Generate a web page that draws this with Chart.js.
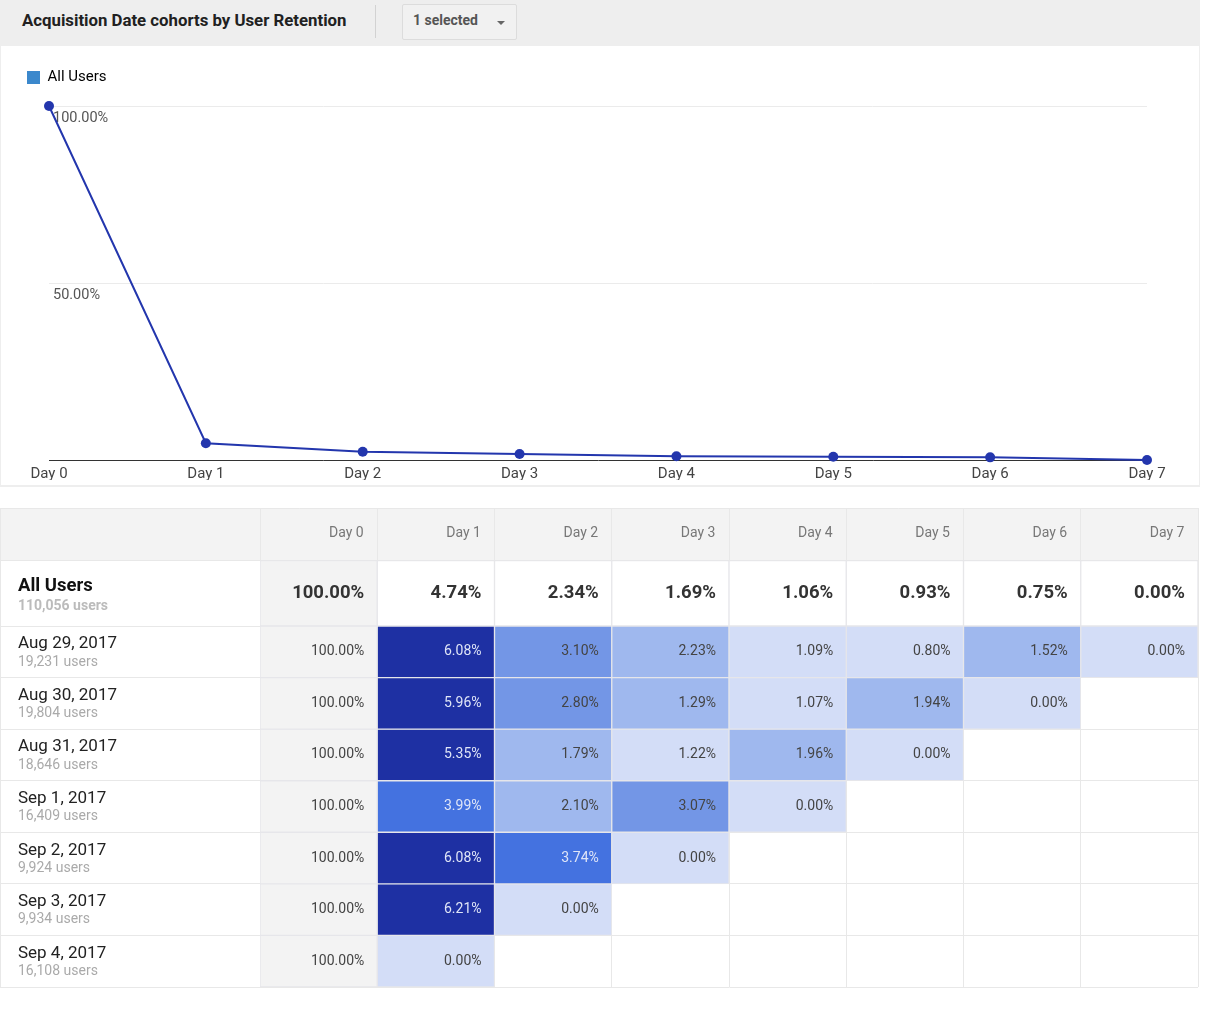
<!DOCTYPE html>
<html>
<head>
<meta charset="utf-8">
<script src="https://cdn.jsdelivr.net/npm/chart.js@4.4.1/dist/chart.umd.min.js"></script>
<style>
  body { margin: 0; background: #fff; font-family: Roboto, sans-serif; width: 1206px; height: 1010px; position: relative; overflow: hidden; }
  #header { position: absolute; left: 0; top: 0; width: 1200px; height: 46px; background: #eeeeee; }
  #title { position: absolute; left: 22px; top: 10px; font-size: 16.8px; font-weight: bold; color: #212121; }
  #sep { position: absolute; left: 375px; top: 5px; width: 1px; height: 33px; background: #d2d2d2; }
  #dropdown { position: absolute; left: 402px; top: 4px; width: 113px; height: 34px; border: 1px solid #dcdcdc; background: #f1f1f1; border-radius: 2px; }
  #dropdown span { position: absolute; left: 10px; top: 7px; font-size: 14px; font-weight: bold; color: #555; }
  #arrow { position: absolute; left: 94px; top: 16px; width: 0; height: 0; border-left: 4px solid transparent; border-right: 4px solid transparent; border-top: 4px solid #666; }
  #lineBox { position: absolute; left: 0; top: 46px; width: 1198px; height: 439px; border-left: 1px solid #eeeeee; border-right: 1px solid #eeeeee; border-bottom: 2px solid #eeeeee; }
  #lineCanvas { position: absolute; left: 0; top: 49px; }
  #tableCanvas { position: absolute; left: 0; top: 508px; }
</style>
</head>
<body>
<div id="header">
  <div id="title">Acquisition Date cohorts by User Retention</div>
  <div id="sep"></div>
  <div id="dropdown"><span>1 selected</span><div id="arrow"></div></div>
</div>
<div id="lineBox"></div>
<canvas id="lineCanvas" width="1200" height="442"></canvas>
<canvas id="tableCanvas" width="1199" height="480"></canvas>
<script>
// columns / days
const dayLabels = ['Day 0', 'Day 1', 'Day 2', 'Day 3', 'Day 4', 'Day 5', 'Day 6', 'Day 7'];

// all users retention (%)
const allUsersRetention = [100, 4.74, 2.34, 1.69, 1.06, 0.93, 0.75, 0.00];
const allUsersCount = 110056;

// cohorts
const cohortLabels = ['Aug 29, 2017', 'Aug 30, 2017', 'Aug 31, 2017', 'Sep 1, 2017', 'Sep 2, 2017', 'Sep 3, 2017', 'Sep 4, 2017'];
const cohortUsers = [19231, 19804, 18646, 16409, 9924, 9934, 16108];
const cohortRetention = [
  [100, 6.08, 3.10, 2.23, 1.09, 0.80, 1.52, 0.00],
  [100, 5.96, 2.80, 1.29, 1.07, 1.94, 0.00],
  [100, 5.35, 1.79, 1.22, 1.96, 0.00],
  [100, 3.99, 2.10, 3.07, 0.00],
  [100, 6.08, 3.74, 0.00],
  [100, 6.21, 0.00],
  [100, 0.00]
];

const FONT = 'Roboto';
Chart.defaults.font.family = FONT;

// ---------- line chart ----------
new Chart(document.getElementById('lineCanvas'), {
  type: 'line',
  data: {
    labels: dayLabels,
    datasets: [{
      label: 'All Users',
      data: allUsersRetention,
      borderColor: '#2336ad',
      backgroundColor: '#2336ad',
      borderWidth: 2,
      pointRadius: 5,
      pointHoverRadius: 5,
      pointBorderWidth: 0,
      tension: 0,
      clip: false
    }]
  },
  options: {
    responsive: false,
    animation: false,
    layout: { padding: { left: 6, right: 53, top: 0, bottom: 11 } },
    plugins: {
      tooltip: { enabled: false },
      // empty title used as a spacer between legend and plot
      title: { display: true, text: '', padding: 0, weight: 500, font: { size: 9.17 } },
      legend: {
        align: 'start',
        labels: {
          boxWidth: 13,
          boxHeight: 13,
          padding: 21,
          color: '#222',
          font: { size: 15 },
          generateLabels: () => [{ text: 'All Users', fillStyle: '#3b88cc', strokeStyle: '#3b88cc', lineWidth: 0, hidden: false, datasetIndex: 0 }]
        }
      }
    },
    scales: {
      x: {
        offset: false,
        grid: { display: false },
        border: { color: '#333', width: 1 },
        ticks: { color: '#444', font: { size: 15 }, padding: -3, maxRotation: 0, autoSkip: false }
      },
      y: {
        min: 0,
        max: 100,
        afterFit: s => { s.width = 43; },
        border: { display: false },
        grid: {
          drawTicks: false,
          color: c => (c.tick && c.tick.value === 0) ? 'rgba(0,0,0,0)' : '#ebebeb'
        },
        ticks: {
          stepSize: 50,
          mirror: true,
          padding: 4,
          labelOffset: 12.5,
          color: '#555',
          font: { size: 14.5 },
          callback: v => v === 0 ? '' : v.toFixed(2) + '%'
        }
      }
    }
  }
});

// ---------- cohort table ----------
const ALL_ROW_UNITS = 1.28; // All Users row is taller
function rowRange(r) {
  return r === 0 ? [0, ALL_ROW_UNITS] : [ALL_ROW_UNITS + r - 1, ALL_ROW_UNITS + r];
}
const tableRows = [allUsersRetention].concat(cohortRetention);
const rowBounds = [0];
tableRows.forEach((v, r) => rowBounds.push(rowRange(r)[1]));

function cellColor(r, c, v) {
  if (c === 0) return '#f3f3f3';
  if (r === 0) return '#ffffff';
  if (v < 1.25) return '#d3ddf7';
  if (v < 2.5) return '#9fb8ee';
  if (v < 3.5) return '#7396e6';
  if (v < 5) return '#4472e0';
  return '#1e30a3';
}
function cellTextColor(r, c, v) {
  if (r === 0) return '#333';
  if (c > 0 && v >= 3.5) return '#dfe5f7';
  return '#444';
}

const tableData = {
  labels: dayLabels,
  datasets: tableRows.map((vals, r) => ({
    label: r === 0 ? 'All Users' : cohortLabels[r - 1],
    data: dayLabels.map((d, c) => c < vals.length ? rowRange(r) : null),
    backgroundColor: dayLabels.map((d, c) => cellColor(r, c, vals[c])),
    borderColor: '#e6e6ea',
    borderWidth: 1,
    borderSkipped: false,
    grouped: false,
    barPercentage: 1,
    categoryPercentage: 1
  }))
};

const tablePlugin = {
  id: 'tableText',
  beforeDraw(chart) {
    const ctx = chart.ctx, a = chart.chartArea;
    ctx.save();
    ctx.fillStyle = '#f3f3f3';
    ctx.fillRect(0, 0, a.right, a.top);
    ctx.strokeStyle = '#e8e8e8';
    ctx.lineWidth = 1;
    ctx.beginPath();
    ctx.moveTo(0, 0.5); ctx.lineTo(a.right, 0.5);
    ctx.moveTo(0.5, 0); ctx.lineTo(0.5, a.bottom);
    ctx.stroke();
    ctx.restore();
  },
  afterDatasetsDraw(chart) {
    const ctx = chart.ctx;
    const ys = chart.scales.y;
    ctx.save();
    ctx.textBaseline = 'middle';
    // cell values
    chart.data.datasets.forEach((ds, r) => {
      const vals = tableRows[r];
      chart.getDatasetMeta(r).data.forEach((bar, c) => {
        if (ds.data[c] == null) return;
        const v = vals[c];
        ctx.textAlign = 'right';
        ctx.font = r === 0 ? 'bold 18.5px ' + FONT : '14px ' + FONT;
        ctx.fillStyle = cellTextColor(r, c, v);
        ctx.fillText(v.toFixed(2) + '%', bar.x + bar.width / 2 - 13, (bar.y + bar.base) / 2);
      });
    });
    // row labels
    ctx.textAlign = 'left';
    tableRows.forEach((vals, r) => {
      const top = ys.getPixelForValue(rowRange(r)[0]);
      if (r === 0) {
        ctx.font = 'bold 18.5px ' + FONT;
        ctx.fillStyle = '#111';
        ctx.fillText('All Users', 18, top + 26);
        ctx.font = 'bold 14px ' + FONT;
        ctx.fillStyle = '#bbb';
        ctx.fillText(allUsersCount.toLocaleString('en-US') + ' users', 18, top + 46);
      } else {
        ctx.font = '17px ' + FONT;
        ctx.fillStyle = '#222';
        ctx.fillText(cohortLabels[r - 1], 18, top + 18);
        ctx.font = '14px ' + FONT;
        ctx.fillStyle = '#aaa';
        ctx.fillText(cohortUsers[r - 1].toLocaleString('en-US') + ' users', 18, top + 36);
      }
    });
    ctx.restore();
  }
};

new Chart(document.getElementById('tableCanvas'), {
  type: 'bar',
  data: tableData,
  plugins: [tablePlugin],
  options: {
    responsive: false,
    animation: false,
    layout: { padding: { right: 1, bottom: 1 } },
    plugins: { legend: { display: false }, tooltip: { enabled: false } },
    scales: {
      x: {
        position: 'top',
        afterFit: s => { s.height = 52; },
        grid: { color: '#e8e8e8', tickLength: 52 },
        border: { color: '#e8e8e8' },
        ticks: { align: 'end', labelOffset: 45, padding: -34, color: '#777', font: { size: 14 }, maxRotation: 0 }
      },
      y: {
        min: 0,
        max: rowBounds[rowBounds.length - 1],
        reverse: true,
        afterFit: s => { s.width = 260; },
        afterBuildTicks: s => { s.ticks = rowBounds.map(v => ({ value: v })); },
        grid: { color: '#e8e8e8', tickLength: 260 },
        border: { color: '#e8e8e8' },
        ticks: { display: false }
      }
    }
  }
});
</script>
</body>
</html>
